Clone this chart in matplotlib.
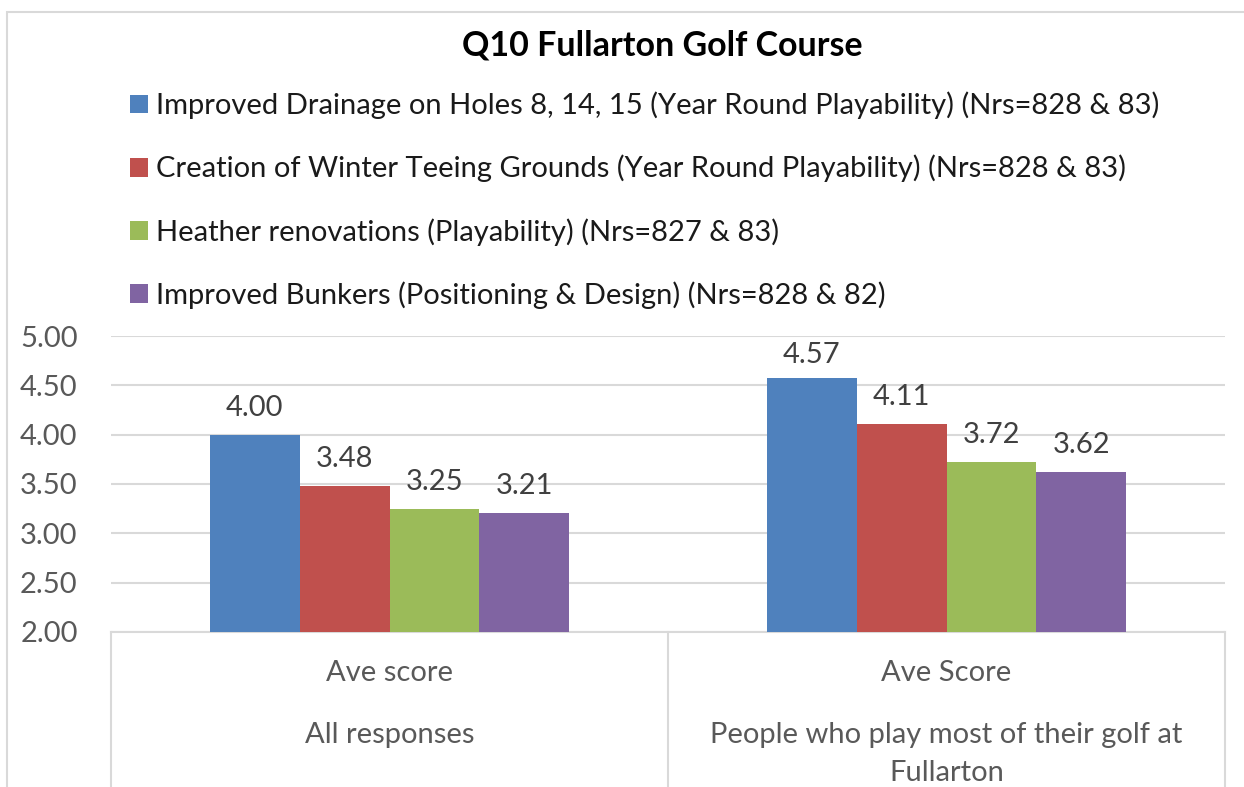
"""Q10 Fullarton Golf Course - average scores by improvement (clustered bars)."""

import matplotlib.pyplot as plt
import matplotlib.transforms as mtransforms
import numpy as np
from matplotlib.patches import Rectangle

group_tops = ["Ave score", "Ave Score"]
group_lines = [["All responses"], ["People who play most of their golf at", "Fullarton"]]
series = [
    "Improved Drainage on Holes 8, 14, 15 (Year Round Playability) (Nrs=828 & 83)",
    "Creation of Winter Teeing Grounds (Year Round Playability) (Nrs=828 & 83)",
    "Heather renovations (Playability) (Nrs=827 & 83)",
    "Improved Bunkers (Positioning & Design) (Nrs=828 & 82)",
]
drainage = [4.00, 4.57]
winter_tees = [3.48, 4.11]
heather = [3.25, 3.72]
bunkers = [3.21, 3.62]
yticks = [2.0, 2.5, 3.0, 3.5, 4.0, 4.5, 5.0]

colors = ["#4F81BD", "#C0504D", "#9BBB59", "#8064A2"]
FONT = "Lato"
W, H = 1244, 787
FS = 21

plt.rcParams["font.family"] = [FONT, "DejaVu Sans"]

fig = plt.figure(figsize=(W / 100, H / 100), dpi=100)

# chart frame (cut off at right/bottom like the screenshot)
fig.patches.append(Rectangle((7 / W, -0.1), 1.2, (H - 12) / H + 0.1,
                             transform=fig.transFigure, fill=False,
                             edgecolor="#D9D9D9", lw=1.5))

x0, x1, y_top, y_bot = 111, 1225, 336, 632
ax = fig.add_axes([x0 / W, 1 - y_bot / H, (x1 - x0) / W, (y_bot - y_top) / H])
px = (y_bot - y_top) / 3.0  # pixels per score unit

x = np.arange(len(group_tops))
width = 0.646 / 4
values = [drainage, winter_tees, heather, bunkers]
for i, (vals, lab, col) in enumerate(zip(values, series, colors)):
    pos = x + (i - 1.5) * width
    bars = ax.bar(pos, np.array(vals) - 2.0, width, bottom=2.0, color=col, label=lab, zorder=3)
    for b, v in zip(bars, vals):
        # Excel keeps the label inside the plot area
        ly = min(v + 27 / px, 5.0 - 19 / px)
        ax.text(b.get_x() + b.get_width() / 2, ly, f"{v:.2f}", ha="center", va="center",
                fontsize=FS, color="#404040")

ax.set_xlim(-0.5, 1.5)
ax.set_ylim(2.0, 5.0)
ax.set_yticks(yticks)
ax.set_yticklabels([f"{t:.2f}" for t in yticks])
ax.tick_params(axis="y", length=0, pad=24, labelsize=FS, labelcolor="#595959")
ax.set_xticks([])
ax.grid(axis="y", color="#D9D9D9", lw=1.5, zorder=0)
for s in ax.spines.values():
    s.set_visible(False)

# multi-level category box under the axis
ax.plot([0, 1], [0, 0], transform=ax.transAxes, color="#D9D9D9", lw=1.5, clip_on=False)
for xv in [0, 0.5, 1]:
    ax.plot([xv, xv], [0, -0.7], transform=ax.transAxes, color="#D9D9D9", lw=1.5, clip_on=False)

cat_tf = mtransforms.blended_transform_factory(ax.transData, fig.transFigure)
for g, top, lines in zip(x, group_tops, group_lines):
    ax.text(g, 1 - 673 / H, top, transform=cat_tf, ha="center", va="center",
            fontsize=FS, color="#595959")
    for k, line in enumerate(lines):
        ax.text(g, 1 - (735 + 38 * k) / H, line, transform=cat_tf, ha="center",
                va="center", fontsize=FS, color="#595959")

fig.text(662 / W, 1 - 45 / H, "Q10 Fullarton Golf Course", ha="center", va="center",
         fontsize=24.5, fontweight="bold", color="#000000")

fig.legend(loc="upper left", bbox_to_anchor=(118 / W, 1 - 80 / H), frameon=False,
           fontsize=FS, handlelength=0.62, handleheight=0.62, handletextpad=0.3,
           labelspacing=1.22, borderaxespad=0, labelcolor="#1a1a1a")

fig.savefig("out.png", dpi=100)
